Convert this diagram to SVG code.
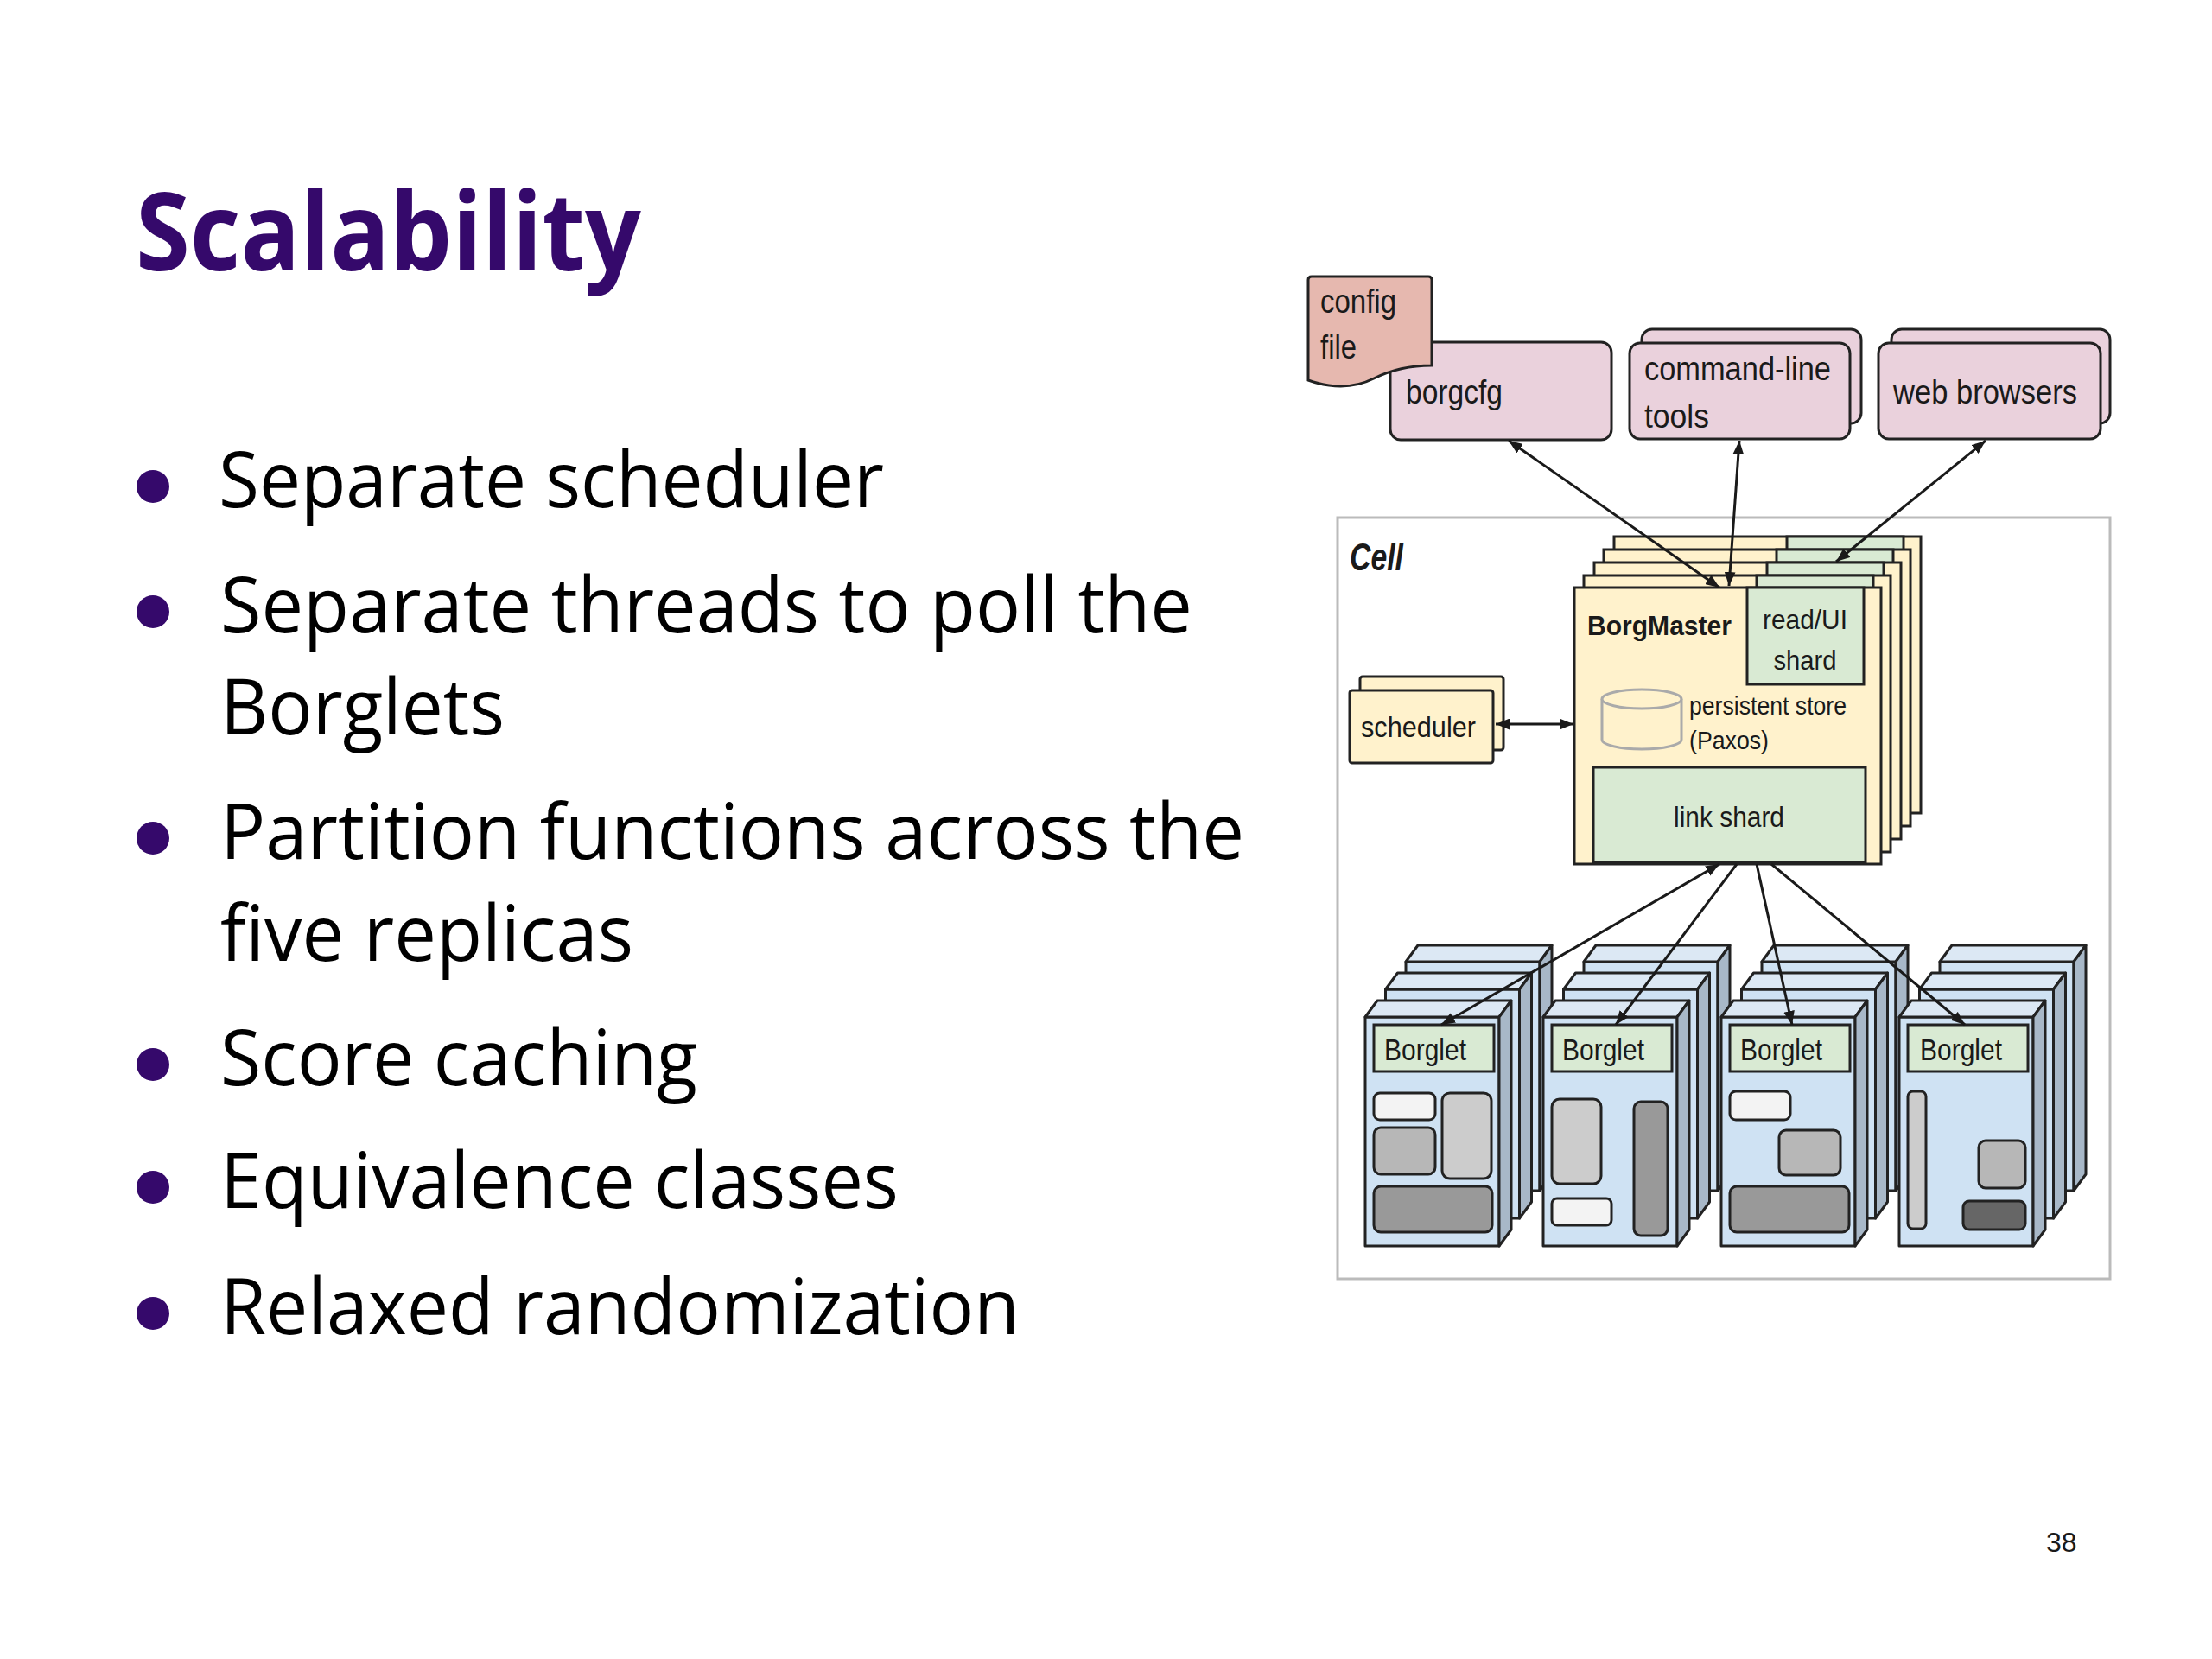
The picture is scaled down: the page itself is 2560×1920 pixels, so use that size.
<svg xmlns="http://www.w3.org/2000/svg" width="2560" height="1920" viewBox="0 0 2560 1920">
<style>
.body{font-family:"Open Sans","Liberation Sans",sans-serif;font-size:90px;fill:#000}
.title{font-family:"Open Sans","Liberation Sans",sans-serif;font-size:126px;font-weight:700;fill:#35096b}
.dot{fill:#35096b}
.lbl{font-family:"Liberation Sans",Arial,sans-serif;fill:#1a1a1a}
.pink{fill:#ead1dc;stroke:#222;stroke-width:3}
.cream{fill:#fff2cc;stroke:#222;stroke-width:3}
.green{fill:#d9ead3;stroke:#222;stroke-width:3}
.front{fill:#cfe2f3;stroke:#222;stroke-width:3;stroke-linejoin:round}
.top{fill:#dce8f4;stroke:#222;stroke-width:3;stroke-linejoin:round}
.side{fill:#a8b8c8;stroke:#222;stroke-width:3;stroke-linejoin:round}
.g1{fill:#f3f3f3;stroke:#222;stroke-width:3}
.g2{fill:#cccccc;stroke:#222;stroke-width:3}
.g3{fill:#b7b7b7;stroke:#222;stroke-width:3}
.g4{fill:#999999;stroke:#222;stroke-width:3}
.g5{fill:#666666;stroke:#222;stroke-width:3}
.arrow{stroke:#1a1a1a;stroke-width:3;fill:none}
</style>
<defs>
<marker id="ah" viewBox="0 0 10 8" refX="10" refY="4" markerWidth="16" markerHeight="13" markerUnits="userSpaceOnUse" orient="auto-start-reverse">
<path d="M0,0 L10,4 L0,8 z" fill="#1a1a1a"/>
</marker>
<g id="bstack">
<rect class="front" x="47" y="-64" width="155" height="265"/>
<polygon class="top" points="47,-64 61,-83 216,-83 202,-64"/>
<polygon class="side" points="202,-64 216,-83 216,182 202,201"/>
<rect class="front" x="23.5" y="-32" width="155" height="265"/>
<polygon class="top" points="23.5,-32 37.5,-51 192.5,-51 178.5,-32"/>
<polygon class="side" points="178.5,-32 192.5,-51 192.5,214 178.5,233"/>
<rect class="front" x="0" y="0" width="155" height="265"/>
<polygon class="top" points="0,0 14,-19 169,-19 155,0"/>
<polygon class="side" points="155,0 169,-19 169,246 155,265"/>
<rect class="green" x="10" y="9" width="139" height="54"/>
</g>
</defs>
<rect width="2560" height="1920" fill="#ffffff"/>

<text class="title" x="157" y="313" textLength="585" lengthAdjust="spacingAndGlyphs">Scalability</text>

<g id="bullets">
<circle class="dot" cx="177" cy="563" r="19"/>
<text class="body" x="253" y="587" textLength="770" lengthAdjust="spacingAndGlyphs">Separate scheduler</text>
<circle class="dot" cx="177" cy="708" r="19"/>
<text class="body" x="255" y="732" textLength="1125" lengthAdjust="spacingAndGlyphs">Separate threads to poll the</text>
<text class="body" x="255" y="850" textLength="329" lengthAdjust="spacingAndGlyphs">Borglets</text>
<circle class="dot" cx="177" cy="970" r="19"/>
<text class="body" x="255" y="994" textLength="1185" lengthAdjust="spacingAndGlyphs">Partition functions across the</text>
<text class="body" x="255" y="1112" textLength="478" lengthAdjust="spacingAndGlyphs">five replicas</text>
<circle class="dot" cx="177" cy="1232" r="19"/>
<text class="body" x="255" y="1256" textLength="552" lengthAdjust="spacingAndGlyphs">Score caching</text>
<circle class="dot" cx="177" cy="1374" r="19"/>
<text class="body" x="255" y="1398" textLength="785" lengthAdjust="spacingAndGlyphs">Equivalence classes</text>
<circle class="dot" cx="177" cy="1520" r="19"/>
<text class="body" x="255" y="1544" textLength="925" lengthAdjust="spacingAndGlyphs">Relaxed randomization</text>
</g>

<text class="lbl" x="2368" y="1796" font-size="32" fill="#222">38</text>

<g id="borgcfg">
<rect class="pink" x="1609" y="396" width="256" height="113" rx="12"/>
<text class="lbl" x="1627" y="467" font-size="38" textLength="112" lengthAdjust="spacingAndGlyphs">borgcfg</text>
</g>
<g id="config-file">
<path d="M1514,324 Q1514,320 1518,320 H1653 Q1657,320 1657,324 V423 C1630,423 1610,428 1590,438 C1570,448 1545,451 1514,440 Z" fill="#e6b8af" stroke="#222" stroke-width="3"/>
<text class="lbl" x="1528" y="362" font-size="38" textLength="88" lengthAdjust="spacingAndGlyphs">config</text>
<text class="lbl" x="1528" y="415" font-size="38" textLength="42" lengthAdjust="spacingAndGlyphs">file</text>
</g>
<g id="command-line-tools">
<rect class="pink" x="1900" y="381" width="254" height="109" rx="12"/>
<rect class="pink" x="1886" y="397" width="255" height="111" rx="12"/>
<text class="lbl" x="1903" y="440" font-size="38" textLength="216" lengthAdjust="spacingAndGlyphs">command-line</text>
<text class="lbl" x="1903" y="495" font-size="38" textLength="75" lengthAdjust="spacingAndGlyphs">tools</text>
</g>
<g id="web-browsers">
<rect class="pink" x="2189" y="381" width="253" height="109" rx="12"/>
<rect class="pink" x="2174" y="397" width="257" height="111" rx="12"/>
<text class="lbl" x="2191" y="467" font-size="38" textLength="213" lengthAdjust="spacingAndGlyphs">web browsers</text>
</g>

<g id="cell">
<rect x="1548" y="599" width="894" height="881" fill="#ffffff" stroke="#bbbbbb" stroke-width="3"/>
<text class="lbl" x="1562" y="660" font-size="44" font-weight="700" font-style="italic" textLength="62" lengthAdjust="spacingAndGlyphs">Cell</text>
</g>

<g id="scheduler">
<rect class="cream" x="1574" y="783" width="166" height="85" rx="3"/>
<rect class="cream" x="1562" y="799" width="166" height="84" rx="3"/>
<text class="lbl" x="1575" y="853" font-size="33" textLength="133" lengthAdjust="spacingAndGlyphs">scheduler</text>
</g>

<g id="borgmaster">
<rect class="cream" x="1868" y="621" width="355" height="320"/>
<rect class="green" x="2068" y="621" width="135" height="112"/>
<rect class="cream" x="1856" y="636" width="355" height="320"/>
<rect class="green" x="2056" y="636" width="135" height="112"/>
<rect class="cream" x="1845" y="651" width="355" height="320"/>
<rect class="green" x="2045" y="651" width="135" height="112"/>
<rect class="cream" x="1833" y="666" width="355" height="320"/>
<rect class="green" x="2033" y="666" width="135" height="112"/>
<rect class="cream" x="1822" y="680" width="355" height="320"/>
<rect class="green" x="2022" y="680" width="135" height="112"/>
<text class="lbl" x="1837" y="735" font-size="32" font-weight="700" textLength="167" lengthAdjust="spacingAndGlyphs">BorgMaster</text>
<text class="lbl" x="2089" y="728" font-size="32" text-anchor="middle" textLength="98" lengthAdjust="spacingAndGlyphs">read/UI</text>
<text class="lbl" x="2089" y="775" font-size="32" text-anchor="middle" textLength="73" lengthAdjust="spacingAndGlyphs">shard</text>
<g fill="#fff2cc" stroke="#aaaaaa" stroke-width="3">
<path d="M1854,809 V856 A46,11 0 0 0 1946,856 V809"/>
<ellipse cx="1900" cy="809" rx="46" ry="11"/>
</g>
<text class="lbl" x="1955" y="827" font-size="30" textLength="182" lengthAdjust="spacingAndGlyphs">persistent store</text>
<text class="lbl" x="1955" y="867" font-size="30" textLength="92" lengthAdjust="spacingAndGlyphs">(Paxos)</text>
<rect class="green" x="1844" y="888" width="315" height="110"/>
<text class="lbl" x="2001" y="957" font-size="33" text-anchor="middle" textLength="128" lengthAdjust="spacingAndGlyphs">link shard</text>
</g>

<g id="borglet-1">
<use href="#bstack" transform="translate(1580,1177)"/>
<text class="lbl" x="1602" y="1227" font-size="35" textLength="95" lengthAdjust="spacingAndGlyphs">Borglet</text>
<rect class="g1" x="1590" y="1265" width="71" height="31" rx="7"/>
<rect class="g2" x="1669" y="1265" width="57" height="99" rx="9"/>
<rect class="g3" x="1590" y="1305" width="71" height="54" rx="8"/>
<rect class="g4" x="1590" y="1373" width="137" height="53" rx="8"/>
</g>
<g id="borglet-2">
<use href="#bstack" transform="translate(1786,1177)"/>
<text class="lbl" x="1808" y="1227" font-size="35" textLength="95" lengthAdjust="spacingAndGlyphs">Borglet</text>
<rect class="g2" x="1796" y="1272" width="57" height="98" rx="9"/>
<rect class="g1" x="1796" y="1387" width="69" height="31" rx="6"/>
<rect class="g4" x="1891" y="1275" width="39" height="155" rx="8"/>
</g>
<g id="borglet-3">
<use href="#bstack" transform="translate(1992,1177)"/>
<text class="lbl" x="2014" y="1227" font-size="35" textLength="95" lengthAdjust="spacingAndGlyphs">Borglet</text>
<rect class="g1" x="2002" y="1263" width="70" height="33" rx="7"/>
<rect class="g3" x="2059" y="1308" width="71" height="52" rx="8"/>
<rect class="g4" x="2002" y="1373" width="138" height="53" rx="8"/>
</g>
<g id="borglet-4">
<use href="#bstack" transform="translate(2198,1177)"/>
<text class="lbl" x="2222" y="1227" font-size="35" textLength="95" lengthAdjust="spacingAndGlyphs">Borglet</text>
<rect class="g2" x="2208" y="1263" width="21" height="159" rx="6"/>
<rect class="g3" x="2290" y="1320" width="54" height="55" rx="8"/>
<rect class="g5" x="2272" y="1390" width="72" height="33" rx="7"/>
</g>

<g id="connectors">
<line class="arrow" x1="1746" y1="510" x2="1990" y2="680" marker-start="url(#ah)" marker-end="url(#ah)"/>
<line class="arrow" x1="2013" y1="510" x2="2001" y2="678" marker-start="url(#ah)" marker-end="url(#ah)"/>
<line class="arrow" x1="2298" y1="510" x2="2125" y2="650" marker-start="url(#ah)" marker-end="url(#ah)"/>
<line class="arrow" x1="1731" y1="838" x2="1821" y2="838" marker-start="url(#ah)" marker-end="url(#ah)"/>
<line class="arrow" x1="1990" y1="1000" x2="1668" y2="1186" marker-start="url(#ah)" marker-end="url(#ah)"/>
<line class="arrow" x1="2010" y1="1000" x2="1870" y2="1186" marker-end="url(#ah)"/>
<line class="arrow" x1="2033" y1="1000" x2="2074" y2="1186" marker-end="url(#ah)"/>
<line class="arrow" x1="2050" y1="1000" x2="2274" y2="1186" marker-end="url(#ah)"/>
</g>
</svg>
